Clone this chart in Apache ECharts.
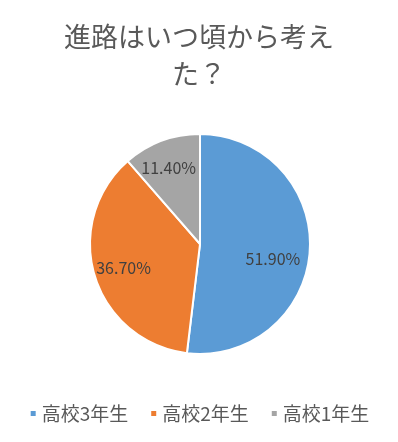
<!DOCTYPE html>
<html>
<head>
<meta charset="utf-8">
<script src="https://cdn.jsdelivr.net/npm/echarts@6/dist/echarts.min.js"></script>
<style>
  html, body { margin: 0; padding: 0; background: #fff; }
  #main { width: 398px; height: 442px; }
</style>
</head>
<body>
<div id="main"></div>
<script>
// 学年ごとの割合 (%)
const grades = ['高校3年生', '高校2年生', '高校1年生'];
const shares = [51.9, 36.7, 11.4];
const colors = ['#5B9BD5', '#ED7D31', '#A5A5A5'];
// ラベルを少し外側へ寄せる
const labelOffsets = [[15, 11], [-21, 7], [-11, -22]];

let myChart = echarts.init(document.getElementById('main'));
let option = {
  title: {
    text: '進路はいつ頃から考え\nた？',
    left: 'center',
    top: 13,
    textStyle: {
      fontFamily: 'Noto Sans CJK JP',
      fontSize: 27,
      fontWeight: 'normal',
      color: '#595959',
      lineHeight: 37
    }
  },
  legend: {
    bottom: 14,
    left: 'center',
    icon: 'rect',
    itemWidth: 7,
    itemHeight: 7,
    itemGap: 21,
    textStyle: {
      fontFamily: 'Noto Sans CJK JP',
      fontSize: 19,
      color: '#595959'
    },
    data: grades
  },
  series: [{
    type: 'pie',
    center: [200, 244],
    radius: 110,
    startAngle: 90,
    clockwise: true,
    avoidLabelOverlap: false,
    itemStyle: {
      borderColor: '#fff',
      borderWidth: 2
    },
    label: {
      position: 'inside',
      fontFamily: 'Noto Sans CJK JP',
      fontSize: 16,
      color: '#404040',
      formatter: p => p.value.toFixed(2) + '%'
    },
    labelLine: { show: false },
    data: grades.map((g, i) => ({
      name: g,
      value: shares[i],
      itemStyle: { color: colors[i] },
      label: { offset: labelOffsets[i] }
    }))
  }]
};
myChart.setOption(option);
</script>
</body>
</html>
